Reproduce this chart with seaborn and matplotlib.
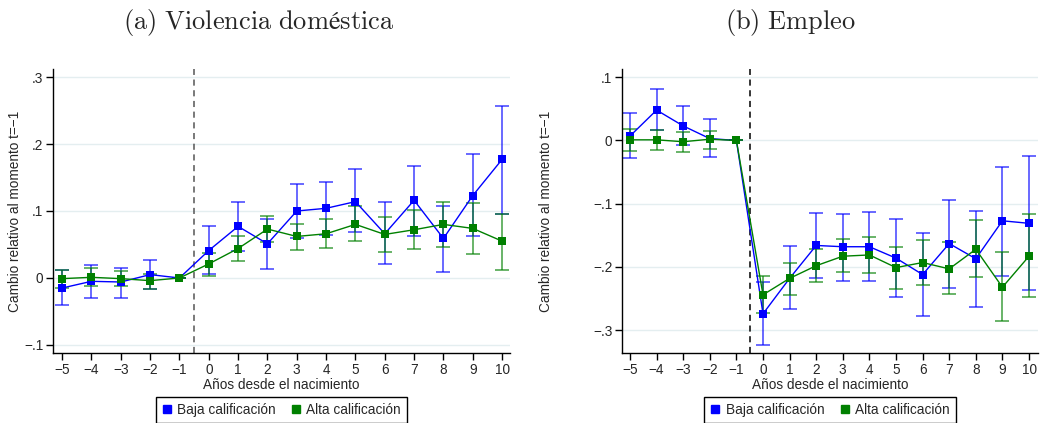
import numpy as np
import pandas as pd
import seaborn as sns
import matplotlib.pyplot as plt
from matplotlib.lines import Line2D

# ───────────────────────
# Data
# ───────────────────────
years = [-5, -4, -3, -2, -1, 0, 1, 2, 3, 4, 5, 6, 7, 8, 9, 10]
groups = ["Baja calificación", "Alta calificación"]

# (a) Violencia doméstica
vd_baja = [-0.015, -0.005, -0.006, 0.005, 0.0, 0.041, 0.077, 0.051, 0.100, 0.104, 0.114, 0.066, 0.116, 0.059, 0.123, 0.177]
vd_baja_lo = [-0.041, -0.030, -0.030, -0.016, 0.0, 0.006, 0.040, 0.013, 0.060, 0.064, 0.068, 0.021, 0.063, 0.009, 0.062, 0.096]
vd_baja_hi = [0.012, 0.019, 0.015, 0.027, 0.0, 0.077, 0.113, 0.088, 0.140, 0.144, 0.163, 0.114, 0.167, 0.108, 0.185, 0.257]
vd_alta = [-0.001, 0.001, -0.001, -0.004, 0.0, 0.021, 0.044, 0.073, 0.062, 0.066, 0.080, 0.065, 0.072, 0.080, 0.074, 0.055]
vd_alta_lo = [-0.015, -0.012, -0.012, -0.016, 0.0, 0.003, 0.026, 0.053, 0.042, 0.045, 0.055, 0.039, 0.043, 0.046, 0.036, 0.012]
vd_alta_hi = [0.012, 0.015, 0.011, 0.006, 0.0, 0.038, 0.062, 0.092, 0.081, 0.088, 0.107, 0.091, 0.102, 0.113, 0.112, 0.096]

# (b) Empleo
em_baja = [0.007, 0.048, 0.023, 0.003, 0.0, -0.274, -0.218, -0.166, -0.168, -0.168, -0.186, -0.212, -0.163, -0.187, -0.127, -0.131]
em_baja_lo = [-0.028, 0.016, -0.007, -0.026, 0.0, -0.324, -0.267, -0.218, -0.222, -0.222, -0.247, -0.278, -0.234, -0.263, -0.214, -0.237]
em_baja_hi = [0.044, 0.081, 0.055, 0.034, 0.0, -0.224, -0.167, -0.114, -0.116, -0.113, -0.124, -0.146, -0.094, -0.111, -0.042, -0.024]
em_alta = [0.001, 0.001, -0.002, 0.002, 0.0, -0.244, -0.218, -0.198, -0.183, -0.181, -0.201, -0.193, -0.203, -0.172, -0.232, -0.183]
em_alta_lo = [-0.016, -0.015, -0.018, -0.013, 0.0, -0.272, -0.245, -0.224, -0.208, -0.209, -0.235, -0.229, -0.243, -0.216, -0.286, -0.248]
em_alta_hi = [0.018, 0.016, 0.013, 0.015, 0.0, -0.215, -0.193, -0.172, -0.155, -0.152, -0.168, -0.157, -0.161, -0.126, -0.176, -0.116]

vd_ticks = [-0.1, 0.0, 0.1, 0.2, 0.3]
vd_ticklabels = ["\u2212.1", "0", ".1", ".2", ".3"]
em_ticks = [-0.3, -0.2, -0.1, 0.0, 0.1]
em_ticklabels = ["\u2212.3", "\u2212.2", "\u2212.1", "0", ".1"]


def make_df(baja, baja_lo, baja_hi, alta, alta_lo, alta_hi):
    d1 = pd.DataFrame({"year": years, "coef": baja, "lo": baja_lo, "hi": baja_hi, "grupo": groups[0]})
    d2 = pd.DataFrame({"year": years, "coef": alta, "lo": alta_lo, "hi": alta_hi, "grupo": groups[1]})
    return pd.concat([d1, d2], ignore_index=True)


df_vd = make_df(vd_baja, vd_baja_lo, vd_baja_hi, vd_alta, vd_alta_lo, vd_alta_hi)
df_em = make_df(em_baja, em_baja_lo, em_baja_hi, em_alta, em_alta_lo, em_alta_hi)

# ───────────────────────
# Style
# ───────────────────────
sns.set_theme(style="white")
plt.rcParams["font.family"] = ["Liberation Sans", "DejaVu Sans"]
plt.rcParams["mathtext.fontset"] = "cm"

palette = {groups[0]: "#0000ff", groups[1]: "#008000"}

fig = plt.figure(figsize=(10.44, 4.23), dpi=100)
ax_a = fig.add_axes([0.0508, 0.1655, 0.4377, 0.6714])
ax_b = fig.add_axes([0.5958, 0.1655, 0.3985, 0.6714])


def draw_panel(ax, df, ticks, ticklabels, ylim, xlim, vline_color, ylabel_x):
    for g in groups:
        sub = df[df["grupo"] == g]
        ax.errorbar(sub["year"], sub["coef"],
                    yerr=[sub["coef"] - sub["lo"], sub["hi"] - sub["coef"]],
                    fmt="none", ecolor=palette[g], elinewidth=1.1, capsize=4.8,
                    capthick=1.1, alpha=0.75, zorder=2)
    sns.lineplot(data=df, x="year", y="coef", hue="grupo", palette=palette,
                 marker="s", markersize=6.4, markeredgewidth=0, linewidth=1.0,
                 ax=ax, legend=False, zorder=3)
    ax.axvline(-0.5, color=vline_color, linestyle=(0, (4, 3)), linewidth=1.1, zorder=1)
    ax.set_xlim(*xlim)
    ax.set_ylim(*ylim)
    ax.set_xticks(years)
    ax.set_xticklabels([str(y).replace("-", "\u2212") for y in years], fontsize=9.8)
    ax.set_yticks(ticks)
    ax.set_yticklabels(ticklabels, fontsize=9.8)
    ax.yaxis.grid(True, color="#e4eef0", linewidth=1.0)
    ax.set_axisbelow(True)
    for s in ["top", "right"]:
        ax.spines[s].set_visible(False)
    for s in ["left", "bottom"]:
        ax.spines[s].set_color("black")
        ax.spines[s].set_linewidth(1.0)
    ax.tick_params(axis="both", direction="out", length=5, width=1.0, color="black",
                   left=True, bottom=True, pad=2)
    ax.set_xlabel("Años desde el nacimiento", fontsize=9.8, labelpad=1)
    ax.set_ylabel("Cambio relativo al momento t=\u22121", fontsize=9.8)
    ax.yaxis.set_label_coords(ylabel_x, 0.5)

    handles = [Line2D([], [], color=palette[g], marker="s", linestyle="none", markersize=5.5)
               for g in groups]
    ax.legend(handles, groups, loc="center", bbox_to_anchor=(0.5, -0.2), ncol=2,
              fontsize=9.8, frameon=True, fancybox=False, edgecolor="black",
              handlelength=0.7, handletextpad=0.4, columnspacing=1.15,
              borderpad=0.45, framealpha=1)


draw_panel(ax_a, df_vd, vd_ticks, vd_ticklabels, (-0.112, 0.312), (-5.31, 10.27), "#555555", -0.068)
draw_panel(ax_b, df_em, em_ticks, em_ticklabels, (-0.336, 0.113), (-5.3, 10.34), "black", -0.165)

fig.text(0.248, 0.947, r"$\mathrm{(a)\ Violencia\ doméstica}$", ha="center", va="center", fontsize=19)
fig.text(0.757, 0.947, r"$\mathrm{(b)\ Empleo}$", ha="center", va="center", fontsize=19)

fig.savefig("out.png", dpi=100)
